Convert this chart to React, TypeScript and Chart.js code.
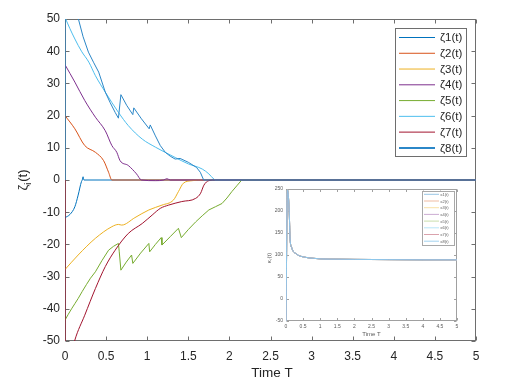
import React, { useEffect, useRef } from "react";
import { Chart, registerables } from "chart.js";

Chart.register(...registerables);

const FONT = '"Liberation Sans", Arial, Helvetica, sans-serif';

// ---------- tick values ----------
const xTicks = [0, 0.5, 1, 1.5, 2, 2.5, 3, 3.5, 4, 4.5, 5];
const yTicks = [-50, -40, -30, -20, -10, 0, 10, 20, 30, 40, 50];
const insetXTicks = [0, 0.5, 1, 1.5, 2, 2.5, 3, 3.5, 4, 4.5, 5];
const insetYTicks = [-50, 0, 50, 100, 150, 200, 250];

// ---------- series labels & colours ----------
const zetaLabels = ["ζ1(t)", "ζ2(t)", "ζ3(t)", "ζ4(t)", "ζ5(t)", "ζ6(t)", "ζ7(t)", "ζ8(t)"];
const zetaColors = ["#0072BD", "#D95319", "#EDB120", "#7E2F8E", "#77AC30", "#4DBEEE", "#A2142F", "#2B87C8"];
const insetLabels = ["κ1(t)", "κ2(t)", "κ3(t)", "κ4(t)", "κ5(t)", "κ6(t)", "κ7(t)", "κ8(t)"];
const insetColors = ["#7fb8de", "#eca98c", "#f6d88f", "#bf97c6", "#bbd597", "#a6def6", "#d08a97", "#8cc8ec"];

// ---------- main series (time, value) ----------
const z1T = [0, 0.06, 0.12, 0.16, 0.2, 0.21, 0.22, 0.23, 5];
const z1V = [-11.7, -10.7, -8.3, -4.7, -0.5, 0, 1.0, 0, 0];

const z2T = [0, 0.12, 0.24, 0.37, 0.47, 0.53, 0.57, 5];
const z2V = [20, 15.9, 10.7, 8.6, 6.0, 2.4, 0, 0];

const z3T = [0, 0.16, 0.37, 0.57, 0.65, 0.69, 0.85, 1.02, 1.18, 1.32, 1.38, 1.44, 1.55, 1.67, 5];
const z3V = [-27.8, -23.3, -18.1, -14.5, -13.8, -14, -11.7, -9.3, -7.8, -6.2, -3.6, -1.0, -0.2, 0, 0];

const z4T = [0, 0.12, 0.24, 0.37, 0.49, 0.57, 0.63, 0.67, 0.77, 0.87, 0.93, 1.1, 1.2, 1.24, 1.28, 5];
const z4V = [35.8, 30.4, 24.7, 19.5, 15.3, 10.7, 8.6, 6.0, 4.5, 1.9, 0, -0.2, 0, 0.4, 0, 0];

const z5T = [0, 0.04, 0.08, 0.12, 0.16, 0.21, 0.26, 0.31, 0.37, 0.45, 0.53, 0.59, 0.65, 0.66, 0.68, 0.745, 0.81, 0.825, 0.92, 1.02, 1.03, 1.1, 1.17, 1.18, 1.28, 1.38, 1.415, 1.5, 1.59, 1.67, 1.75, 1.83, 1.91, 1.97, 2.03, 2.09, 2.15, 5];
const z5V = [-43.5, -41.7, -40.0, -38.4, -36.8, -34.6, -32.5, -30.5, -28.5, -25.0, -21.8, -20.6, -19.7, -22.3, -28, -25.5, -23.3, -25.9, -22.7, -19.7, -22.3, -20.0, -17.9, -20.2, -17.6, -15, -17.9, -15.4, -13, -11.1, -9.3, -8.3, -7.3, -5.6, -3.6, -1.8, 0, 0];

const z6T = [0, 0.06, 0.12, 0.2, 0.29, 0.37, 0.49, 0.65, 0.77, 0.94, 1.1, 1.18, 1.34, 1.5, 1.67, 1.75, 1.81, 1.83, 5];
const z6V = [50.5, 47, 43.8, 40, 36.6, 32.4, 27.3, 21.0, 16.9, 12.7, 10.2, 9.1, 7.0, 5.0, 3.4, 1.9, 0.3, 0, 0];

const z7T = [0, 0.001, 0.06, 0.12, 0.24, 0.37, 0.49, 0.61, 0.77, 0.94, 1.06, 1.16, 1.26, 1.42, 1.59, 1.65, 1.69, 1.75, 1.83, 5];
const z7V = [0, -63, -56, -49.7, -42, -33.7, -26.9, -21.8, -16.6, -13.5, -10.9, -8.8, -7.8, -6.7, -5.7, -4.1, -1.6, -0.2, 0, 0];

const z8T = [0, 0.001, 0.163, 0.22, 0.285, 0.35, 0.41, 0.49, 0.55, 0.61, 0.65, 0.68, 0.75, 0.825, 0.837, 0.93, 1.024, 1.037, 1.1, 1.159, 1.22, 1.28, 1.34, 1.4, 1.5, 1.6, 1.646, 1.687, 5];
const z8V = [0, 68, 50, 44.5, 39.7, 36.4, 33.5, 27.3, 24.0, 21, 19.2, 26.5, 23.2, 20.3, 22.4, 19.0, 15.9, 17.1, 13.7, 10.7, 8.6, 7.4, 6.5, 6.7, 5.5, 3.9, 2.4, 0, 0];

// ---------- inset series ----------
const psiT = [0, 0.04, 0.067, 0.097, 0.117, 0.165, 0.31, 0.55, 0.8, 1.04, 1.5, 2, 3, 4, 5];
const psiV = [-60, 248, 236, 192, 140, 117, 102, 95, 92.5, 91, 90.5, 90, 89.5, 89, 89];

const zetaT = [z1T, z2T, z3T, z4T, z5T, z6T, z7T, z8T];
const zetaV = [z1V, z2V, z3V, z4V, z5V, z6V, z7V, z8V];
const zetaSmooth = [true, true, true, true, false, true, true, false];

const pts = (t: number[], v: number[]) => t.map((x, i) => ({ x, y: v[i] }));

type FrameCfg = {
  fill: boolean;
  boxColor: string;
  tickLen: number;
  xT: number[];
  yT: number[];
  legend: {
    l: number; t: number; r: number; b: number;
    y0: number; dy: number; x0: number; x1: number; tx: number;
    font: string; color: string; labels: string[]; colors: string[]; widths: number[]; border: string;
  };
  xLabel: { text: string; x: number; y: number; font: string; color: string };
  yLabel: { main: string; sub: string; tail: string; x: number; y: number; size: number; color: string };
  ox: number; oy: number;
};

function makeFrame(cfg: FrameCfg) {
  return {
    id: "frame",
    beforeDraw(chart: any) {
      if (!cfg.fill) return;
      const { ctx, chartArea: a } = chart;
      ctx.save();
      ctx.fillStyle = "#ffffff";
      ctx.fillRect(a.left, a.top, a.right - a.left, a.bottom - a.top);
      ctx.restore();
    },
    beforeDatasetsDraw(chart: any) {
      const { ctx, chartArea: a, scales } = chart;
      ctx.save();
      ctx.strokeStyle = cfg.boxColor;
      ctx.lineWidth = 1;
      const L = Math.round(a.left) + 0.5, R = Math.round(a.right) - 0.5;
      const T = Math.round(a.top) + 0.5, B = Math.round(a.bottom) - 0.5;
      ctx.strokeRect(L, T, R - L, B - T);
      ctx.beginPath();
      for (const v of cfg.xT) {
        const x = Math.round(scales.x.getPixelForValue(v)) + 0.5;
        ctx.moveTo(x, B); ctx.lineTo(x, B - cfg.tickLen);
        ctx.moveTo(x, T); ctx.lineTo(x, T + cfg.tickLen);
      }
      for (const v of cfg.yT) {
        const y = Math.round(scales.y.getPixelForValue(v)) + 0.5;
        ctx.moveTo(L, y); ctx.lineTo(L + cfg.tickLen, y);
        ctx.moveTo(R, y); ctx.lineTo(R - cfg.tickLen, y);
      }
      ctx.stroke();
      ctx.restore();
    },
    afterDraw(chart: any) {
      const ctx = chart.ctx as CanvasRenderingContext2D;
      const g = cfg.legend;
      const ox = cfg.ox, oy = cfg.oy;
      ctx.save();
      ctx.fillStyle = "#ffffff";
      ctx.fillRect(g.l - ox, g.t - oy, g.r - g.l, g.b - g.t);
      ctx.strokeStyle = g.border;
      ctx.lineWidth = 1;
      ctx.strokeRect(Math.round(g.l - ox) + 0.5, Math.round(g.t - oy) + 0.5, Math.round(g.r - g.l) - 1, Math.round(g.b - g.t) - 1);
      ctx.font = g.font;
      ctx.textBaseline = "middle";
      ctx.textAlign = "left";
      g.labels.forEach((lab, i) => {
        const y = g.y0 + i * g.dy - oy;
        ctx.strokeStyle = g.colors[i];
        ctx.lineWidth = g.widths[i];
        ctx.beginPath();
        ctx.moveTo(g.x0 - ox, y);
        ctx.lineTo(g.x1 - ox, y);
        ctx.stroke();
        ctx.fillStyle = g.color;
        ctx.fillText(lab, g.tx - ox, y + 0.5);
      });
      ctx.font = cfg.xLabel.font;
      ctx.fillStyle = cfg.xLabel.color;
      ctx.textAlign = "center";
      ctx.textBaseline = "middle";
      ctx.fillText(cfg.xLabel.text, cfg.xLabel.x - ox, cfg.xLabel.y - oy);
      const yl = cfg.yLabel;
      ctx.translate(yl.x - ox, yl.y - oy);
      ctx.rotate(-Math.PI / 2);
      ctx.fillStyle = yl.color;
      ctx.textAlign = "left";
      ctx.textBaseline = "alphabetic";
      const mainFont = `${yl.size}px ${FONT}`;
      const subFont = `${Math.round(yl.size * 0.7)}px ${FONT}`;
      ctx.font = mainFont;
      const w1 = ctx.measureText(yl.main).width;
      const w3 = ctx.measureText(yl.tail).width;
      ctx.font = subFont;
      const w2 = ctx.measureText(yl.sub).width + 1;
      const total = w1 + w2 + w3;
      let x = -total / 2;
      const base = yl.size * 0.33;
      ctx.font = mainFont;
      ctx.fillText(yl.main, x, base);
      x += w1;
      ctx.font = subFont;
      ctx.fillText(yl.sub, x, base + yl.size * 0.25);
      x += w2;
      ctx.font = mainFont;
      ctx.fillText(yl.tail, x, base);
      ctx.restore();
    },
  };
}

export default function App() {
  const mainRef = useRef<HTMLCanvasElement | null>(null);
  const insetRef = useRef<HTMLCanvasElement | null>(null);

  useEffect(() => {
    const textColor = "#262626";
    const mainFrame = makeFrame({
      fill: true,
      boxColor: "#6e6e6e",
      tickLen: 4,
      xT: xTicks,
      yT: yTicks,
      ox: 0,
      oy: 0,
      legend: {
        l: 395, t: 28, r: 467, b: 157,
        y0: 37.5, dy: 15.77, x0: 399, x1: 435, tx: 440,
        font: `11.5px ${FONT}`, color: textColor,
        labels: zetaLabels, colors: zetaColors,
        widths: [1, 1, 1, 1, 1, 1, 1, 2], border: "#6e6e6e",
      },
      xLabel: { text: "Time T", x: 272, y: 373, font: `13.5px ${FONT}`, color: textColor },
      yLabel: { main: "ζ", sub: "i", tail: "(t)", x: 23, y: 180, size: 13, color: textColor },
    });

    const main = new Chart(mainRef.current as HTMLCanvasElement, {
      type: "line",
      data: {
        datasets: zetaT.map((t, i) => ({
          label: zetaLabels[i],
          data: pts(t, zetaV[i]),
          borderColor: zetaColors[i],
          backgroundColor: zetaColors[i],
          borderWidth: 1,
          pointRadius: 0,
          fill: false,
          tension: 0,
          cubicInterpolationMode: zetaSmooth[i] ? "monotone" : "default",
          order: 8 - i,
        })),
      },
      options: {
        responsive: false,
        animation: false,
        devicePixelRatio: 1,
        events: [],
        layout: { padding: { left: 0, top: 19, right: 45, bottom: 0 } },
        plugins: { legend: { display: false }, tooltip: { enabled: false } },
        scales: {
          x: {
            type: "linear",
            min: 0,
            max: 5,
            afterFit: (s: any) => { s.height = 46; },
            afterBuildTicks: (s: any) => { s.ticks = xTicks.map((v) => ({ value: v })); },
            ticks: {
              font: { family: FONT, size: 12 },
              color: textColor,
              padding: 8,
              maxRotation: 0,
              autoSkip: false,
              callback: (v: any) => String(v),
            },
            grid: { display: false, drawTicks: false },
            border: { display: false },
          },
          y: {
            type: "linear",
            min: -50,
            max: 50,
            afterFit: (s: any) => { s.width = 65; },
            afterBuildTicks: (s: any) => { s.ticks = yTicks.map((v) => ({ value: v })); },
            ticks: {
              font: { family: FONT, size: 12 },
              color: textColor,
              padding: 5,
              autoSkip: false,
              callback: (v: any) => String(v),
            },
            grid: { display: false, drawTicks: false },
            border: { display: false },
          },
        },
      } as any,
      plugins: [mainFrame as any],
    });

    const IX = 255, IY = 183;
    const insetText = "#5a5a5a";
    const insetFrame = makeFrame({
      fill: true,
      boxColor: "#a0a0a0",
      tickLen: 2.5,
      xT: insetXTicks,
      yT: insetYTicks,
      ox: IX,
      oy: IY,
      legend: {
        l: 421.5, t: 190.5, r: 454, b: 245.5,
        y0: 194.3, dy: 6.7, x0: 424, x1: 439, tx: 440.5,
        font: `4px ${FONT}`, color: insetText,
        labels: insetLabels, colors: insetColors,
        widths: [0.8, 0.8, 0.8, 0.8, 0.8, 0.8, 0.8, 0.8], border: "#a8a8a8",
      },
      xLabel: { text: "Time T", x: 371.5, y: 334.5, font: `6px ${FONT}`, color: insetText },
      yLabel: { main: "κ", sub: "i", tail: "(t)", x: 269, y: 258, size: 6, color: insetText },
    });

    const inset = new Chart(insetRef.current as HTMLCanvasElement, {
      type: "line",
      data: {
        datasets: insetLabels.map((lab, i) => ({
          label: lab,
          data: pts(psiT, psiV),
          borderColor: insetColors[i],
          backgroundColor: insetColors[i],
          borderWidth: 1,
          pointRadius: 0,
          fill: false,
          cubicInterpolationMode: "monotone",
          order: 8 - i,
        })),
      },
      options: {
        responsive: false,
        animation: false,
        devicePixelRatio: 1,
        events: [],
        layout: { padding: { left: 0, top: 4, right: 8, bottom: 0 } },
        plugins: { legend: { display: false }, tooltip: { enabled: false } },
        scales: {
          x: {
            type: "linear",
            min: 0,
            max: 5,
            afterFit: (s: any) => { s.height = 17; },
            afterBuildTicks: (s: any) => { s.ticks = insetXTicks.map((v) => ({ value: v })); },
            ticks: {
              font: { family: FONT, size: 5 },
              color: insetText,
              padding: 3,
              maxRotation: 0,
              autoSkip: false,
              callback: (v: any) => String(v),
            },
            grid: { display: false, drawTicks: false },
            border: { display: false },
          },
          y: {
            type: "linear",
            min: -50,
            max: 250,
            afterFit: (s: any) => { s.width = 31; },
            afterBuildTicks: (s: any) => { s.ticks = insetYTicks.map((v) => ({ value: v })); },
            ticks: {
              font: { family: FONT, size: 5 },
              color: insetText,
              padding: 3,
              autoSkip: false,
              callback: (v: any) => String(v),
            },
            grid: { display: false, drawTicks: false },
            border: { display: false },
          },
        },
      } as any,
      plugins: [insetFrame as any],
    });

    return () => {
      main.destroy();
      inset.destroy();
    };
  }, []);

  return (
    <div style={{ position: "fixed", left: 0, top: 0, width: 521, height: 387, background: "#ffffff" }}>
      <canvas ref={mainRef} width={521} height={387} style={{ position: "absolute", left: 0, top: 0, width: 521, height: 387 }} />
      <canvas ref={insetRef} width={210} height={155} style={{ position: "absolute", left: 255, top: 183, width: 210, height: 155 }} />
    </div>
  );
}
